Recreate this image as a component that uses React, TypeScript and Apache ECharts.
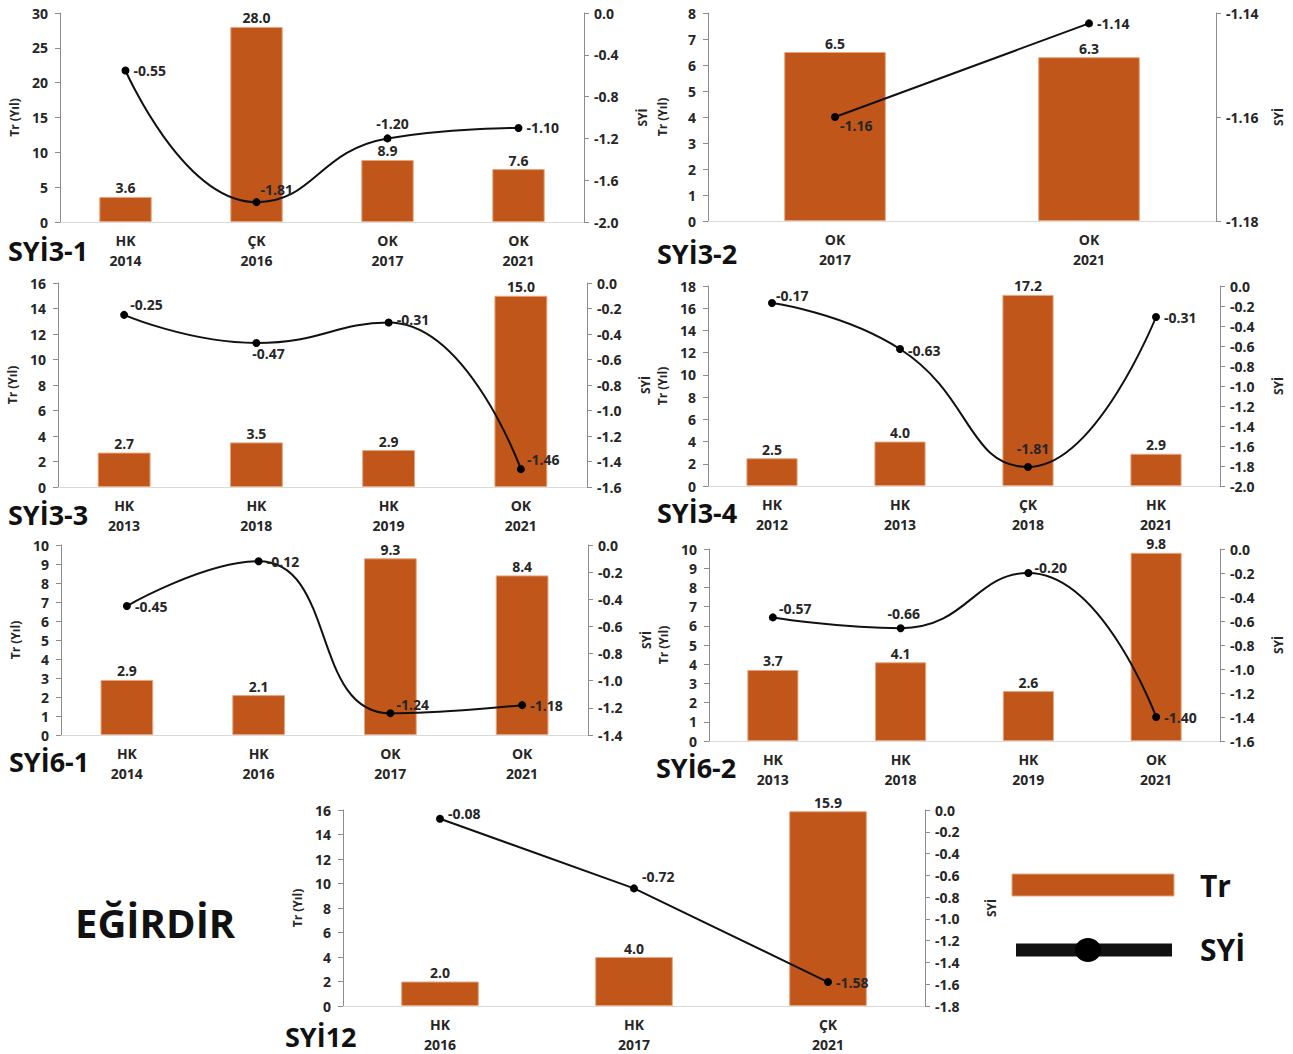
import React, { useEffect, useRef } from "react";
import * as echarts from "echarts";

// ---------- data ----------
const P1_CATEGORIES = ["HK\n2014", "ÇK\n2016", "OK\n2017", "OK\n2021"];
const P1_TR = [3.6, 28.0, 8.9, 7.6];
const P1_SYI = [-0.55, -1.81, -1.2, -1.1];

const P2_CATEGORIES = ["OK\n2017", "OK\n2021"];
const P2_TR = [6.5, 6.3];
const P2_SYI = [-1.16, -1.142];

const P3_CATEGORIES = ["HK\n2013", "HK\n2018", "HK\n2019", "OK\n2021"];
const P3_TR = [2.7, 3.5, 2.9, 15.0];
const P3_SYI = [-0.25, -0.47, -0.31, -1.46];

const P4_CATEGORIES = ["HK\n2012", "HK\n2013", "ÇK\n2018", "HK\n2021"];
const P4_TR = [2.5, 4.0, 17.2, 2.9];
const P4_SYI = [-0.17, -0.63, -1.81, -0.31];

const P5_CATEGORIES = ["HK\n2014", "HK\n2016", "OK\n2017", "OK\n2021"];
const P5_TR = [2.9, 2.1, 9.3, 8.4];
const P5_SYI = [-0.45, -0.12, -1.24, -1.18];

const P6_CATEGORIES = ["HK\n2013", "HK\n2018", "HK\n2019", "OK\n2021"];
const P6_TR = [3.7, 4.1, 2.6, 9.8];
const P6_SYI = [-0.57, -0.66, -0.2, -1.4];

const P7_CATEGORIES = ["HK\n2016", "HK\n2017", "ÇK\n2021"];
const P7_TR = [2.0, 4.0, 15.9];
const P7_SYI = [-0.08, -0.72, -1.58];

const PANEL_TITLES = ["SYİ3-1", "SYİ3-2", "SYİ3-3", "SYİ3-4", "SYİ6-1", "SYİ6-2", "SYİ12"];
const LEFT_AXES = [
  { max: 30, interval: 5 },
  { max: 8, interval: 1 },
  { max: 16, interval: 2 },
  { max: 18, interval: 2 },
  { max: 10, interval: 1 },
  { max: 10, interval: 1 },
  { max: 16, interval: 2 },
];
const RIGHT_AXES = [
  { min: -2.0, max: 0, interval: 0.4, digits: 1 },
  { min: -1.18, max: -1.14, interval: 0.02, digits: 2 },
  { min: -1.6, max: 0, interval: 0.2, digits: 1 },
  { min: -2.0, max: 0, interval: 0.2, digits: 1 },
  { min: -1.4, max: 0, interval: 0.2, digits: 1 },
  { min: -1.6, max: 0, interval: 0.2, digits: 1 },
  { min: -1.8, max: 0, interval: 0.2, digits: 1 },
];

// ---------- layout / style ----------
const FONT = '"Open Sans", "Noto Sans", sans-serif';
const BAR_COLOR = "#C0561A";
const TEXT_COLOR = "#262626";

const GRIDS = [
  { left: 60, top: 13, width: 524, height: 209 },
  { left: 708, top: 13, width: 508, height: 208 },
  { left: 58, top: 283, width: 529, height: 204 },
  { left: 708, top: 286, width: 512, height: 200 },
  { left: 61, top: 545, width: 527, height: 190 },
  { left: 709, top: 549, width: 511, height: 192 },
  { left: 343, top: 810, width: 582, height: 199 },
];
const TITLE_POS = [
  [8, 250], [657, 253], [8, 514], [657, 512], [9, 761], [656, 767], [285, 1036],
];
const RIGHT_NAME_GAP = [52, 56, 52, 52, 52, 52, 60];

// label placement per point: [position, dx, dy]
const LABEL_CFG: any[][] = [
  [["right", 0, 0], ["right", -4, -13], ["top", 5, 0], ["right", 0, 0]],
  [["right", -3, 8], ["right", 0, 0]],
  [["right", -2, -10], ["bottom", 12, -4], ["right", 0, -3], ["right", -2, -10]],
  [["right", -4, -8], ["right", 0, 1], ["top", 5, -4], ["right", 0, 0]],
  [["right", 0, 0], ["right", 0, 0], ["right", -2, -9], ["right", 0, 0]],
  [["right", -2, -9], ["top", 3, 0], ["right", -2, -6], ["right", 0, 0]],
  [["right", 0, -5], ["right", 0, -12], ["right", 0, 0]],
];
const SMOOTH = [true, false, true, true, true, true, false];

const PANELS = [
  { cats: P1_CATEGORIES, tr: P1_TR, syi: P1_SYI },
  { cats: P2_CATEGORIES, tr: P2_TR, syi: P2_SYI },
  { cats: P3_CATEGORIES, tr: P3_TR, syi: P3_SYI },
  { cats: P4_CATEGORIES, tr: P4_TR, syi: P4_SYI },
  { cats: P5_CATEGORIES, tr: P5_TR, syi: P5_SYI },
  { cats: P6_CATEGORIES, tr: P6_TR, syi: P6_SYI },
  { cats: P7_CATEGORIES, tr: P7_TR, syi: P7_SYI },
];

function buildOption() {
  const grid: any[] = [];
  const xAxis: any[] = [];
  const yAxis: any[] = [];
  const series: any[] = [];
  const graphic: any[] = [];

  PANELS.forEach((p, i) => {
    grid.push({ ...GRIDS[i], containLabel: false });
    xAxis.push({
      type: "category",
      gridIndex: i,
      data: p.cats,
      axisLine: { show: true, lineStyle: { color: "#d9d9d9", width: 1 } },
      axisTick: { show: false },
      axisLabel: {
        interval: 0,
        margin: 8,
        fontFamily: FONT,
        fontWeight: "bold",
        fontSize: 14,
        lineHeight: 20,
        color: TEXT_COLOR,
      },
    });
    const la = LEFT_AXES[i];
    yAxis.push({
      type: "value",
      gridIndex: i,
      position: "left",
      min: 0,
      max: la.max,
      interval: la.interval,
      name: "Tr (Yıl)",
      nameLocation: "middle",
      nameGap: 40,
      nameRotate: 90,
      nameTextStyle: { fontFamily: FONT, fontWeight: "bold", fontSize: 12, color: TEXT_COLOR },
      axisLine: { show: true, lineStyle: { color: "#8c8c8c" } },
      axisTick: { show: true, length: 5, lineStyle: { color: "#8c8c8c" } },
      splitLine: { show: false },
      axisLabel: {
        margin: 12,
        fontFamily: FONT,
        fontWeight: "bold",
        fontSize: 14,
        color: TEXT_COLOR,
      },
    });
    const ra = RIGHT_AXES[i];
    yAxis.push({
      type: "value",
      gridIndex: i,
      position: "right",
      min: ra.min,
      max: ra.max,
      interval: ra.interval,
      name: "SYİ",
      nameLocation: "middle",
      nameGap: RIGHT_NAME_GAP[i],
      nameRotate: 90,
      nameTextStyle: { fontFamily: FONT, fontWeight: "bold", fontSize: 12, color: TEXT_COLOR },
      axisLine: { show: true, lineStyle: { color: "#8c8c8c" } },
      axisTick: { show: true, length: 5, lineStyle: { color: "#8c8c8c" } },
      splitLine: { show: false },
      axisLabel: {
        margin: 10,
        fontFamily: FONT,
        fontWeight: "bold",
        fontSize: 14,
        color: TEXT_COLOR,
        formatter: (v: number) => (Math.abs(v) < 1e-9 ? (0).toFixed(ra.digits) : v.toFixed(ra.digits)),
      },
    });
    series.push({
      type: "bar",
      name: "Tr",
      xAxisIndex: i,
      yAxisIndex: i * 2,
      data: p.tr,
      barWidth: "40%",
      itemStyle: { color: BAR_COLOR, borderColor: "#e9a57c", borderWidth: 1 },
      label: {
        show: true,
        position: "top",
        distance: 2,
        formatter: (d: any) => Number(d.value).toFixed(1),
        fontFamily: FONT,
        fontWeight: "bold",
        fontSize: 14,
        color: TEXT_COLOR,
      },
      z: 2,
    });
    series.push({
      type: "line",
      name: "SYİ",
      xAxisIndex: i,
      yAxisIndex: i * 2 + 1,
      smooth: SMOOTH[i] ? 0.5 : false,
      data: p.syi.map((v, j) => {
        const c = LABEL_CFG[i][j];
        return {
          value: v,
          label: { position: c[0], offset: [c[1], c[2]] },
        };
      }),
      symbol: "circle",
      symbolSize: 8,
      itemStyle: { color: "#000" },
      lineStyle: { color: "#111", width: 2 },
      label: {
        show: true,
        distance: 4,
        formatter: (d: any) => Number(d.value).toFixed(2),
        fontFamily: FONT,
        fontWeight: "bold",
        fontSize: 14,
        color: TEXT_COLOR,
      },
      z: 5,
    });

    const tp = TITLE_POS[i];
    graphic.push({
      type: "text",
      x: tp[0],
      y: tp[1],
      style: {
        text: PANEL_TITLES[i],
        fontFamily: FONT,
        fontWeight: "bold",
        fontSize: 27,
        fill: "#111",
        verticalAlign: "middle",
        align: "left",
      },
    });
  });

  graphic.push({
    type: "text",
    x: 75,
    y: 922,
    style: {
      text: "EĞİRDİR",
      fontFamily: FONT,
      fontWeight: "bold",
      fontSize: 40,
      fill: "#111",
      verticalAlign: "middle",
      align: "left",
    },
  });
  // legend
  graphic.push({
    type: "rect",
    shape: { x: 1012, y: 874, width: 162, height: 22 },
    style: { fill: BAR_COLOR, stroke: "#e9a57c", lineWidth: 1 },
  });
  graphic.push({
    type: "text",
    x: 1200,
    y: 885,
    style: { text: "Tr", fontFamily: FONT, fontWeight: "bold", fontSize: 30, fill: "#111", verticalAlign: "middle" },
  });
  graphic.push({
    type: "line",
    shape: { x1: 1016, y1: 950, x2: 1172, y2: 950 },
    style: { stroke: "#111", lineWidth: 13 },
  });
  graphic.push({
    type: "ellipse",
    shape: { cx: 1088, cy: 950, rx: 13, ry: 12 },
    style: { fill: "#000" },
  });
  graphic.push({
    type: "text",
    x: 1200,
    y: 949,
    style: { text: "SYİ", fontFamily: FONT, fontWeight: "bold", fontSize: 30, fill: "#111", verticalAlign: "middle" },
  });

  return {
    animation: false,
    backgroundColor: "#ffffff",
    grid,
    xAxis,
    yAxis,
    series,
    graphic,
  };
}

export default function App() {
  const ref = useRef<HTMLDivElement>(null);
  useEffect(() => {
    document.body.style.margin = "0";
    if (!ref.current) return;
    const chart = echarts.init(ref.current, undefined, { renderer: "svg" });
    chart.setOption(buildOption());
    return () => chart.dispose();
  }, []);
  return <div ref={ref} style={{ width: 1293, height: 1054 }} />;
}
